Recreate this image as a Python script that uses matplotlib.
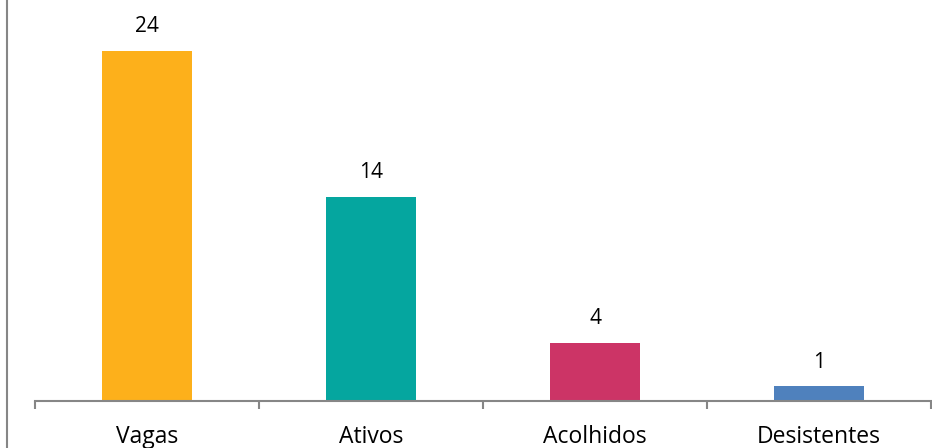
import matplotlib.pyplot as plt
from matplotlib.lines import Line2D
import numpy as np

categories = ['Vagas', 'Ativos', 'Acolhidos', 'Desistentes']
values = [24, 14, 4, 1]
colors = ['#FDB01B', '#05A69F', '#CC3466', '#4F81BD']

W, H = 932, 448
fig = plt.figure(figsize=(W / 100, H / 100), dpi=100)
ax = fig.add_axes([35 / W, 47 / H, 896 / W, 401 / H])

x = np.arange(len(categories))
ax.bar(x, values, width=0.4, color=colors)
for xi, v in zip(x, values):
    ax.annotate(str(v), (xi, v), xytext=(0, 10), textcoords='offset points',
                ha='center', va='bottom', fontsize=15, family='Open Sans')

ax.set_xlim(-0.5, len(categories) - 0.5)
ax.set_ylim(0, 27.5)
ax.set_yticks([])
for s in ['top', 'right', 'left']:
    ax.spines[s].set_visible(False)
ax.spines['bottom'].set_color('#868686')
ax.spines['bottom'].set_linewidth(1.5)

ax.set_xticks(x)
ax.set_xticklabels(categories, fontsize=16.5, family='Open Sans')
ax.tick_params(axis='x', which='major', length=0, pad=17)
ax.set_xticks(np.arange(len(categories) + 1) - 0.5, minor=True)
ax.tick_params(axis='x', which='minor', length=6, width=1.5, color='#868686', direction='out')

# grey frame line on the left edge
fig.add_artist(Line2D([6.5 / W, 6.5 / W], [0, 1], color='#868686', lw=1.5))

fig.savefig('out.png', dpi=100)
